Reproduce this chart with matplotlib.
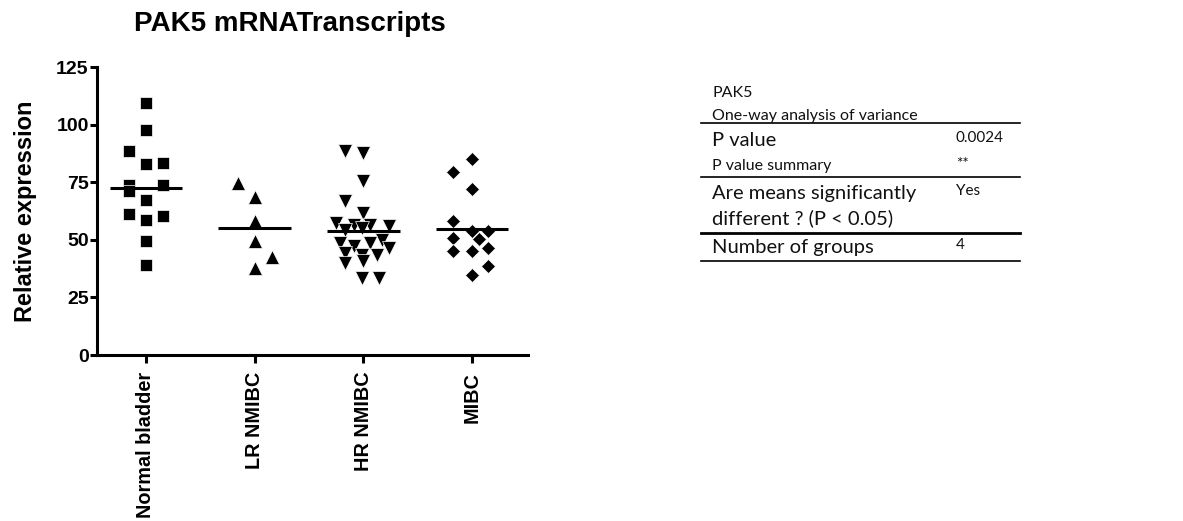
import matplotlib
matplotlib.use("Agg")
import matplotlib.pyplot as plt
import numpy as np

# ---------------- data ----------------
categories = ["Normal bladder", "LR NMIBC", "HR NMIBC", "MIBC"]

normal_vals = [109.3, 97.7, 88.5, 82.7, 83.4, 73.9, 71.0, 73.9, 67.2, 61.0, 58.8, 60.2, 49.4, 39.2]
normal_jit = [0, 0, -0.16, 0, 0.16, -0.16, -0.16, 0.16, 0, -0.16, 0, 0.16, 0, 0]

lr_vals = [74.5, 68.7, 58.1, 49.4, 42.6, 37.8]
lr_jit = [-0.154, 0, 0, 0, 0.16, 0]

hr_vals = [88.5, 87.5, 75.5, 66.8, 61.7, 57.4, 56.6, 56.6, 56.2, 54.4, 55.2, 50.1,
           48.6, 47.2, 48.6, 46.5, 44.3, 43.6, 43.6, 39.9, 40.6, 33.4, 33.4]
hr_jit = [-0.166, 0, 0, -0.166, 0, -0.248, -0.089, 0.064, 0.233, -0.166, -0.012, 0.172,
          -0.212, -0.089, 0.064, 0.233, -0.166, -0.012, 0.126, -0.166, 0, -0.012, 0.141]

mibc_vals = [85.2, 79.4, 72.1, 58.1, 53.7, 53.7, 50.8, 50.4, 46.5, 45.0, 45.0, 38.8, 34.8]
mibc_jit = [0, -0.172, 0, -0.172, 0, 0.15, -0.172, 0.067, 0.15, -0.172, 0, 0.15, 0]

y_ticks = [0, 25, 50, 75, 100, 125]

table_rows = [
    ("PAK5", "", "small"),
    ("One-way analysis of variance", "", "small"),
    ("P value", "0.0024", "large"),
    ("P value summary", "**", "small"),
    ("Are means significantly", "Yes", "large"),
    ("different ? (P < 0.05)", "", "large"),
    ("Number of groups", "4", "large"),
]

# ---------------- figure ----------------
W, H = 1183, 521
fig = plt.figure(figsize=(W / 100, H / 100), dpi=100)
fig.patch.set_facecolor("white")

def fx(px):
    return px / W

def fy(py):
    return 1 - py / H

ax = fig.add_axes([fx(97), fy(355), fx(528) - fx(97), fy(67) - fy(355)])

groups = [(normal_vals, normal_jit, "s", 9.2),
          (lr_vals, lr_jit, "^", 9.5),
          (hr_vals, hr_jit, "v", 9.5),
          (mibc_vals, mibc_jit, "D", 7.6)]

for i, (vals, jit, mk, ms) in enumerate(groups):
    xs = i + np.array(jit)
    ax.plot(xs, vals, linestyle="none", marker=mk, markersize=ms,
            markerfacecolor="black", markeredgecolor="white", markeredgewidth=0.5,
            zorder=3)
    m = np.mean(vals)
    ax.plot([i - 0.335, i + 0.335], [m, m], color="black", lw=2.2, zorder=4,
            solid_capstyle="butt")

ax.set_xlim(-0.45, 3.515)
ax.set_ylim(0, 125)
ax.set_yticks(y_ticks)
ax.set_xticks(range(len(categories)))
ax.set_xticklabels(categories, rotation=90, fontsize=14.3, fontweight="bold",
                   family="Liberation Sans")
ax.set_yticklabels([str(t) for t in y_ticks], fontsize=14, fontweight="bold",
                   family="Liberation Sans")
for s in ["top", "right"]:
    ax.spines[s].set_visible(False)
for s in ["left", "bottom"]:
    ax.spines[s].set_linewidth(2.2)
ax.tick_params(axis="y", length=5, width=2.2, pad=1)
ax.tick_params(axis="x", length=6, width=2.2, pad=6)
ax.set_ylabel("Relative expression", fontsize=17, fontweight="bold",
              family="Liberation Sans", labelpad=14)

fig.text(fx(290), fy(24), "PAK5 mRNATranscripts", fontsize=20, fontweight="bold",
         family="Liberation Sans", ha="center", va="center")

# ---------------- table ----------------
row_y = [93, 116, 140, 166, 193, 218, 247]
for (lab, val, sz), y in zip(table_rows, row_y):
    fs = 11.5 if sz == "small" else 14.5
    fig.text(fx(712), fy(y), lab, fontsize=fs, family="Lato", ha="left", va="center",
             color="#111111")
    if val:
        fig.text(fx(956), fy(y - 2), val, fontsize=11, family="Lato", ha="left",
                 va="center", color="#111111")

for y, lw in [(123, 1.2), (177, 1.2), (232.5, 2.0), (261, 1.2)]:
    fig.add_artist(plt.Line2D([fx(701), fx(1020)], [fy(y), fy(y)], color="black",
                              lw=lw, transform=fig.transFigure))

fig.savefig("out.png", dpi=100, facecolor="white")
